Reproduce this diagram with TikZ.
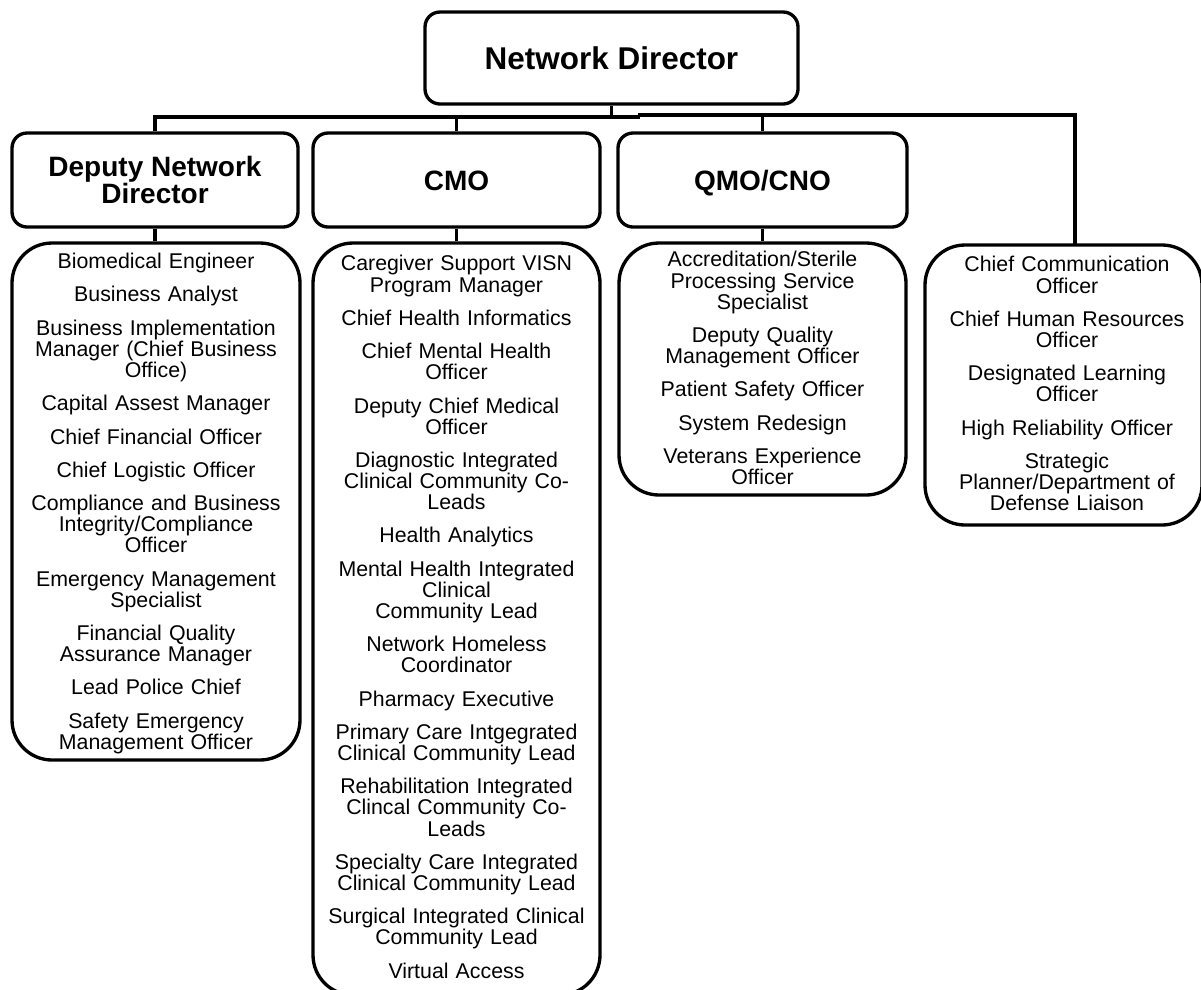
\documentclass[tikz,border=0pt]{standalone}
\usepackage{fontspec}
\setmainfont{Liberation Sans}
\begin{document}
\begin{tikzpicture}[x=0.75pt,y=-0.75pt,
  hdr/.style={draw, line width=2.5pt, rounded corners=11.25pt, align=center, inner sep=0pt,
    font=\bfseries\fontsize{21pt}{20.8pt}\selectfont},
  lst/.style={draw, line width=2.5pt, rounded corners=30pt, inner sep=0pt},
  items/.style={font=\fontsize{16pt}{15.8pt}\selectfont, align=center, inner sep=0pt,
    anchor=north, text width={275*0.75pt}},
  conn/.style={line width=2.5pt}]
\useasboundingbox (0,0) rectangle (1201,989);
\clip (0,0) rectangle (1201,989);

% top
\node[draw, line width=2.5pt, rounded corners=11.25pt, inner sep=0pt,
  minimum width={373*0.75pt}, minimum height={92*0.75pt},
  font=\bfseries\fontsize{23.6pt}{24pt}\selectfont] (nd) at (611.5,58) {Network Director};

% second level
\node[hdr, minimum width={286*0.75pt}, minimum height={94*0.75pt}] (dep) at (155,180) {Deputy Network\\Director};
\node[hdr, text height=15pt, text depth=0pt, minimum width={287*0.75pt}, minimum height={94*0.75pt}] (cmo) at (456.5,180) {CMO};
\node[hdr, text height=15pt, text depth=0pt, minimum width={289*0.75pt}, minimum height={94*0.75pt}] (qmo) at (762.5,180) {QMO/CNO};

% list boxes
\node[lst, minimum width={288*0.75pt}, minimum height={517*0.75pt}] (deplist) at (156,501.5) {};
\node[lst, minimum width={287*0.75pt}, minimum height={752*0.75pt}] (cmolist) at (456.5,619) {};
\node[lst, minimum width={287*0.75pt}, minimum height={252*0.75pt}] (qmolist) at (762.5,369) {};
\node[lst, minimum width={277*0.75pt}, minimum height={280*0.75pt}] (rlist) at (1063.5,385) {};

% list texts
\node[items] (depitems) at (156,252.3) {\rule{0pt}{12pt}Biomedical Engineer\\[9.2pt]
Business Analyst\\[9.2pt]
Business Implementation\\Manager (Chief Business\\Office)\\[9.2pt]
Capital Assest Manager\\[9.2pt]
Chief Financial Officer\\[9.2pt]
Chief Logistic Officer\\[9.2pt]
Compliance and Business\\Integrity/Compliance\\Officer\\[9.2pt]
Emergency Management\\Specialist\\[9.2pt]
Financial Quality\\Assurance Manager\\[9.2pt]
Lead Police Chief\\[9.2pt]
Safety Emergency\\Management Officer};

\node[items] (cmoitems) at (456.5,254.7) {\rule{0pt}{12pt}Caregiver Support VISN\\Program Manager\\[9.2pt]
Chief Health Informatics\\[9.2pt]
Chief Mental Health\\Officer\\[9.2pt]
Deputy Chief Medical\\Officer\\[9.2pt]
Diagnostic Integrated\\Clinical Community Co-\\Leads\\[9.2pt]
Health Analytics\\[9.2pt]
Mental Health Integrated\\Clinical\\Community Lead\\[9.2pt]
Network Homeless\\Coordinator\\[9.2pt]
Pharmacy Executive\\[9.2pt]
Primary Care Intgegrated\\Clinical Community Lead\\[9.2pt]
Rehabilitation Integrated\\Clincal Community Co-\\Leads\\[9.2pt]
Specialty Care Integrated\\Clinical Community Lead\\[9.2pt]
Surgical Integrated Clinical\\Community Lead\\[9.2pt]
Virtual Access};

\node[items] (qmoitems) at (762.5,250.7) {\rule{0pt}{12pt}Accreditation/Sterile\\Processing Service\\Specialist\\[9.2pt]
Deputy Quality\\Management Officer\\[9.2pt]
Patient Safety Officer\\[9.2pt]
System Redesign\\[9.2pt]
Veterans Experience\\Officer};

\node[items] (ritems) at (1067,255.7) {\rule{0pt}{12pt}Chief Communication\\Officer\\[9.2pt]
Chief Human Resources\\Officer\\[9.2pt]
Designated Learning\\Officer\\[9.2pt]
High Reliability Officer\\[9.2pt]
Strategic\\Planner/Department of\\Defense Liaison};

% connectors
\coordinate (busL) at (0,117);
\coordinate (busR) at (0,115);
\coordinate (jL) at (640,117);
\coordinate (jR) at (638,115);
\coordinate (jRt) at (1075,245);
\draw[conn] (nd.south) -- (nd.south |- busL);
\draw[conn] (dep.north) -- (dep.north |- busL) -- (jL);
\draw[conn] (cmo.north) -- (cmo.north |- busL);
\draw[conn] (jR) -| (jRt);
\draw[conn] (qmo.north) -- (qmo.north |- busR);
\draw[conn] (dep.south) -- (dep.south |- deplist.north);
\draw[conn] (cmo.south) -- (cmolist.north);
\draw[conn] (qmo.south) -- (qmolist.north);
\end{tikzpicture}
\end{document}
